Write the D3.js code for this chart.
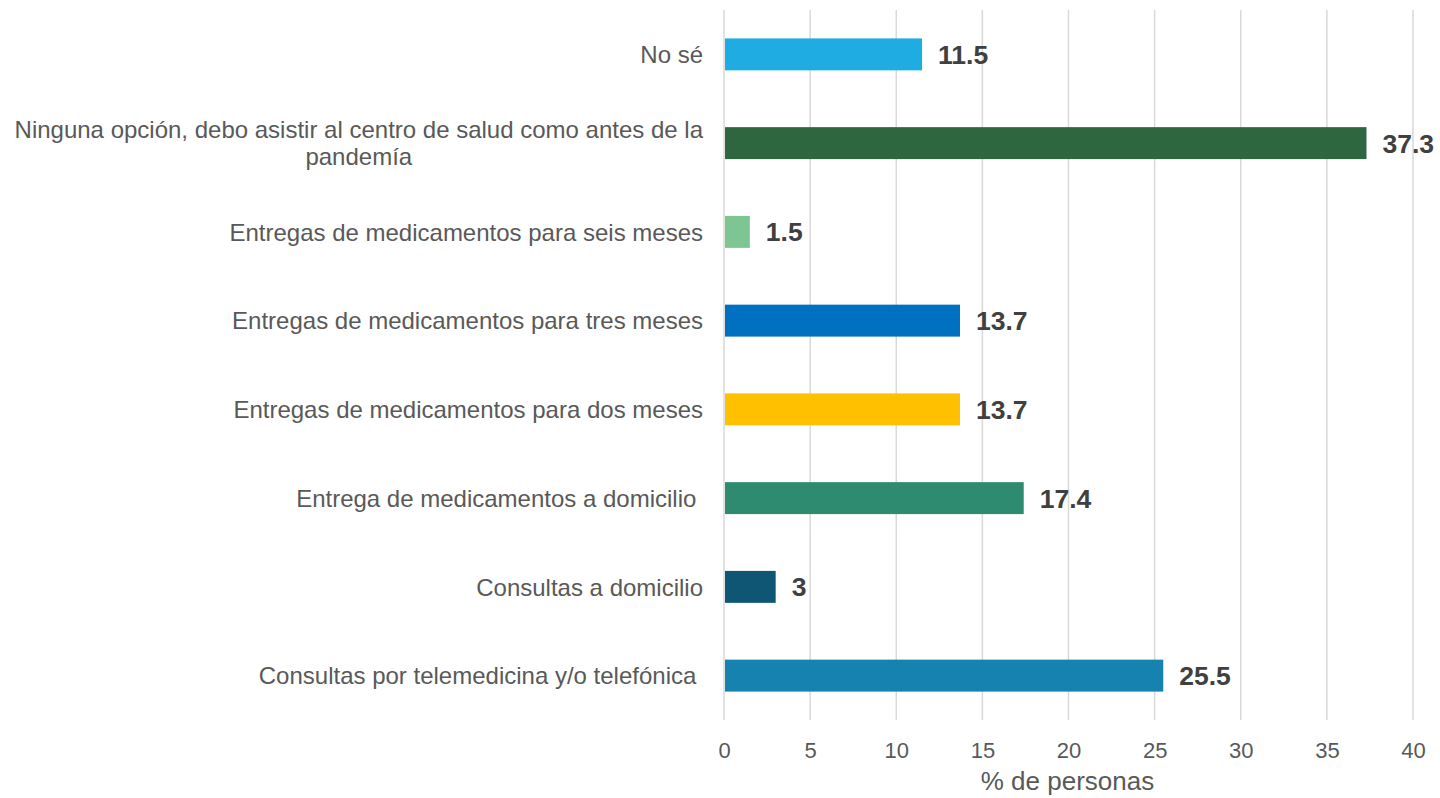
<!DOCTYPE html>
<html>
<head>
<meta charset="utf-8">
<script src="https://cdn.jsdelivr.net/npm/d3@7"></script>
<style>
  body { margin: 0; background: #fff; }
  text { font-family: "Liberation Sans", Arial, sans-serif; }
</style>
</head>
<body>
<script>
var width = 1440
var height = 798

// data, top to bottom
var categories = [
  "No sé",
  "Ninguna opción, debo asistir al centro de salud como antes de la|pandemía",
  "Entregas de medicamentos para seis meses",
  "Entregas de medicamentos para tres meses",
  "Entregas de medicamentos para dos meses",
  "Entrega de medicamentos a domicilio ",
  "Consultas a domicilio",
  "Consultas por telemedicina y/o telefónica "
]
var values = [11.5, 37.3, 1.5, 13.7, 13.7, 17.4, 3, 25.5]
var colors = ["#1EACE2", "#2E673F", "#7DC592", "#0070C0", "#FFC000", "#2E8B6F", "#0E5673", "#1682B0"]
var ticks = [0, 5, 10, 15, 20, 25, 30, 35, 40]

var margin = { top: 10, bottom: 78, left: 724, right: 27 }
var padded_width = width - margin.left - margin.right
var padded_height = height - margin.top - margin.bottom

var svg = d3.select("body")
            .append("svg")
            .attr("width", width)
            .attr("height", height)

var x = d3.scaleLinear().domain([0, 40]).range([0, padded_width])
var y = d3.scaleBand()
          .domain(categories)
          .range([0, padded_height])
          .paddingInner(0.64)
          .paddingOuter(0.32)

var g = svg.append("g")
           .attr("transform", "translate(" + margin.left + "," + margin.top + ")")

// gridlines
g.selectAll("line.grid")
  .data(ticks)
  .enter()
  .append("line")
  .attr("x1", function(d){ return x(d) })
  .attr("x2", function(d){ return x(d) })
  .attr("y1", 0)
  .attr("y2", padded_height)
  .attr("stroke", "#D9D9D9")
  .attr("stroke-width", 1.5)

// bars
var rows = categories.map(function(c, i){ return { cat: c, value: values[i], color: colors[i] } })

g.selectAll("rect.bar")
  .data(rows)
  .enter()
  .append("rect")
  .classed("bar", true)
  .attr("x", x(0) + 1)
  .attr("y", function(d){ return y(d.cat) })
  .attr("width", function(d){ return x(d.value) - x(0) - 1 })
  .attr("height", y.bandwidth())
  .attr("fill", function(d){ return d.color })

// value labels
g.selectAll("text.val")
  .data(rows)
  .enter()
  .append("text")
  .attr("x", function(d){ return x(d.value) + 16 })
  .attr("y", function(d){ return y(d.cat) + y.bandwidth() / 2 })
  .attr("dy", "0.36em")
  .attr("font-size", 26.5)
  .attr("font-weight", "bold")
  .attr("fill", "#404040")
  .text(function(d){ return d.value })

// category labels
var lab = g.selectAll("text.cat")
  .data(rows)
  .enter()
  .append("text")
  .attr("font-size", 24)
  .attr("fill", "#595959")
  .attr("text-anchor", function(d){ return d.cat.indexOf("|") >= 0 ? "middle" : "end" })
  .attr("xml:space", "preserve")
  .style("white-space", "pre")
  .attr("transform", function(d){
    var cy = y(d.cat) + y.bandwidth() / 2
    return "translate(" + (-21) + "," + cy + ")"
  })

lab.each(function(d){
  var parts = d.cat.split("|")
  var t = d3.select(this)
  if (parts.length == 1) {
    t.append("tspan").attr("x", 0).attr("dy", "0.36em").text(parts[0])
  } else {
    var tmp = t.append("tspan").text(parts[0])
    var w = tmp.node().getComputedTextLength()
    tmp.remove()
    parts.forEach(function(p, i){
      t.append("tspan")
        .attr("x", -w / 2)
        .attr("y", (i - (parts.length - 1) / 2) * 27)
        .attr("dy", "0.36em")
        .text(p)
    })
  }
})

// x axis
var xAxis = g.append("g")
  .attr("transform", "translate(0," + padded_height + ")")
  .call(d3.axisBottom(x).tickValues(ticks).tickSize(0).tickPadding(22))

xAxis.select(".domain").remove()
xAxis.selectAll("text")
  .attr("font-size", 22)
  .attr("fill", "#595959")
  .style("font-family", "Liberation Sans, Arial, sans-serif")

g.append("text")
  .attr("x", padded_width / 2 - 1)
  .attr("y", padded_height + 70)
  .attr("text-anchor", "middle")
  .attr("font-size", 26)
  .attr("fill", "#595959")
  .text("% de personas")
</script>
</body>
</html>
